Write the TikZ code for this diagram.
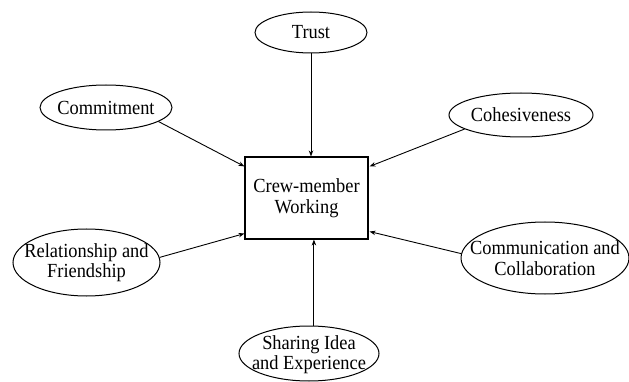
\documentclass[tikz,border=0pt]{standalone}
\usepackage{fontspec}
\setmainfont{Liberation Serif}[FakeStretch=0.92]
\usetikzlibrary{shapes.geometric,arrows.meta}
\begin{document}
\begin{tikzpicture}[x=1pt,y=-1pt,
  ell/.style={ellipse,draw,line width=1pt,inner sep=0pt},
  txt/.style={font=\fontsize{20}{20.5}\selectfont,align=center,inner sep=0pt},
  conn/.style={line width=0.9pt,-{Stealth[length=6pt,width=4.5pt]}}]
\useasboundingbox (0,0) rectangle (629,382);
\node[draw,line width=1.1pt,minimum width=123pt,minimum height=82pt,inner sep=0pt] (box) at (306.5,198) {};
\node[txt] (boxt) at (box) {Crew-member\\Working};
\node[ell,minimum width=112pt,minimum height=41pt] (trust) at (311,32.5) {};
\node[txt] (trustt) at (trust) {Trust};
\node[ell,minimum width=132pt,minimum height=45pt] (commit) at (106,107.5) {};
\node[txt] (committ) at (commit) {Commitment};
\node[ell,minimum width=144pt,minimum height=44pt] (cohes) at (521,115) {};
\node[txt] (cohest) at (cohes) {Cohesiveness};
\node[ell,minimum width=147pt,minimum height=67pt] (rel) at (86.5,262.5) {};
\node[txt] (relt) at (rel) {Relationship and\\Friendship};
\node[ell,minimum width=168pt,minimum height=72pt] (comm) at (545,258) {};
\node[txt] (commt) at (comm) {Communication and\\Collaboration};
\node[ell,minimum width=140pt,minimum height=55pt] (share) at (309,353.5) {};
\node[txt] (sharet) at ([yshift=-1pt]share) {Sharing Idea\\and Experience};
\draw[conn] (trust.south) -- (trust.south |- box.north);
\draw[conn] (commit.-15) -- ([yshift=-10pt]box.north west);
\draw[conn] (cohes.194) -- ([yshift=-10pt,xshift=1pt]box.north east);
\draw[conn] (rel.4) -- ([yshift=6pt]box.south west);
\draw[conn] (comm.177) -- ([yshift=8pt,xshift=1pt]box.south east);
\draw[conn] (share.80) -- (share.80 |- box.south);
\end{tikzpicture}
\end{document}
